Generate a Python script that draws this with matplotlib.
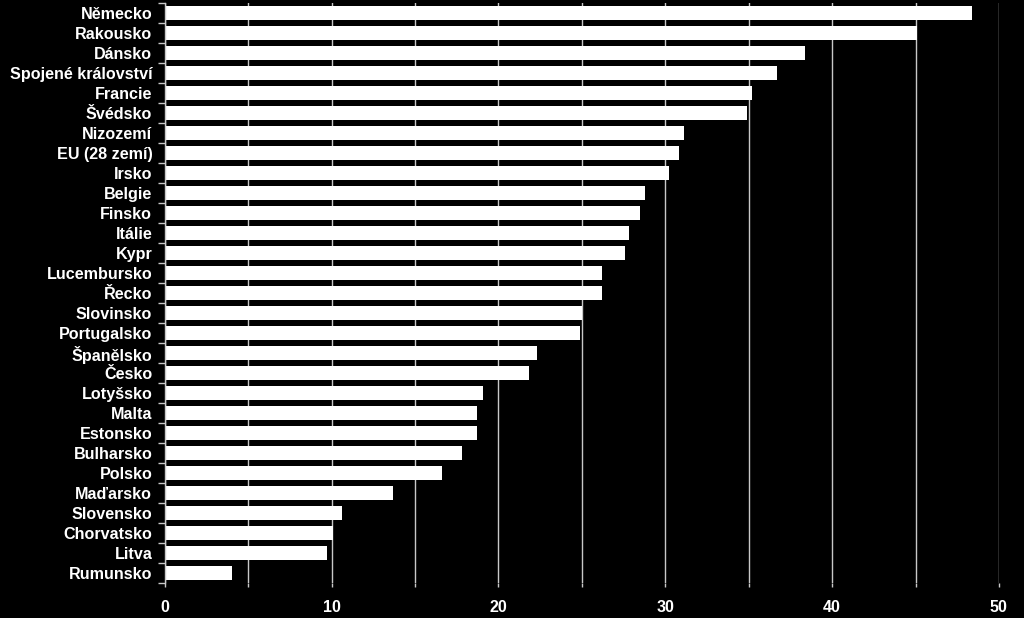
import matplotlib
matplotlib.use("Agg")
import matplotlib.pyplot as plt
from matplotlib.ticker import MultipleLocator, FuncFormatter

countries = ["Německo", "Rakousko", "Dánsko", "Spojené království", "Francie",
             "Švédsko", "Nizozemí", "EU (28 zemí)", "Irsko", "Belgie", "Finsko",
             "Itálie", "Kypr", "Lucembursko", "Řecko", "Slovinsko", "Portugalsko",
             "Španělsko", "Česko", "Lotyšsko", "Malta", "Estonsko", "Bulharsko",
             "Polsko", "Maďarsko", "Slovensko", "Chorvatsko", "Litva", "Rumunsko"]
values = [48.4, 45.1, 38.4, 36.7, 35.2, 34.9, 31.1, 30.8, 30.2, 28.8, 28.5,
          27.8, 27.6, 26.2, 26.2, 25.0, 24.9, 22.3, 21.8, 19.1, 18.7, 18.7, 17.8,
          16.6, 13.7, 10.6, 10.1, 9.7, 4.0]

plt.rcParams['font.family'] = ['Liberation Sans', 'DejaVu Sans']

fig = plt.figure(figsize=(10.24, 6.18), dpi=100, facecolor="black")
ax = fig.add_axes([0.161, 0.0566, 0.8145, 0.9385], facecolor="black")

pos = list(range(len(countries)))
ax.barh(pos, values, height=0.67, color="white", zorder=2)

ax.set_xlim(0, 50)
ax.set_ylim(len(countries) - 0.5, -0.5)

# gridlines every 5, labels every 10
ax.xaxis.set_major_locator(MultipleLocator(5))
ax.xaxis.set_major_formatter(FuncFormatter(lambda v, p: "%d" % v if int(round(v)) % 10 == 0 else ""))
ax.grid(axis="x", color="#c8c8c8", linewidth=1, zorder=1)
ax.tick_params(axis="x", colors="#c8c8c8", length=3, width=1, labelsize=11.5, pad=9,
               labelcolor="white")
for lbl in ax.get_xticklabels():
    lbl.set_fontweight("bold")

# category labels, ticks at boundaries
ax.set_yticks(pos)
ax.set_yticklabels(countries, fontsize=11.6, fontweight="bold", color="white")
ax.set_yticks([p - 0.5 for p in pos] + [len(pos) - 0.5], minor=True)
ax.tick_params(axis="y", which="major", length=0, pad=9)
ax.tick_params(axis="y", which="minor", length=5, color="#c8c8c8", width=1)

for s in ["top", "right", "bottom"]:
    ax.spines[s].set_visible(False)
ax.spines["left"].set_color("#c8c8c8")
ax.spines["left"].set_linewidth(1)

fig.savefig("out.png", dpi=100, facecolor="black")
